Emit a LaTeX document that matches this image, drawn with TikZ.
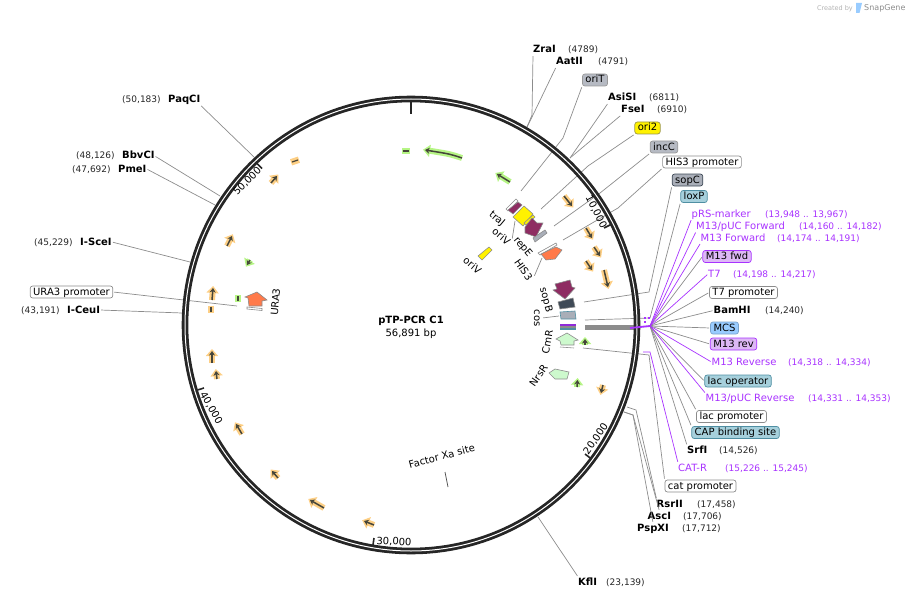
\documentclass[tikz,border=0pt]{standalone}
\usepackage{fontspec}
\setmainfont{DejaVu Sans}
\usetikzlibrary{arrows.meta}
\definecolor{leadgray}{HTML}{8C8C8C}
\definecolor{primerpurple}{HTML}{A832FF}
\definecolor{haloorange}{HTML}{FDCF85}
\definecolor{halogreen}{HTML}{B6F585}
\definecolor{arrowdark}{HTML}{45453A}
\definecolor{maroonfeat}{HTML}{8E2C62}
\definecolor{orangefeat}{HTML}{FF7A4A}
\definecolor{palegreen}{HTML}{CDF9CD}
\definecolor{slatefeat}{HTML}{3F4A57}
\definecolor{grayfeat}{HTML}{A9AEB8}
\definecolor{tealfeat}{HTML}{A6D0DC}
\definecolor{tealedge}{HTML}{4F8FA3}
\definecolor{lilacfeat}{HTML}{DDB8F5}
\definecolor{bluefeat}{HTML}{99CCFF}
\tikzset{
    lbl/.style={inner sep=0pt, font=\fontsize{10}{12}\selectfont, text height=8pt, text depth=2pt},
    site/.style={lbl, anchor=west, font=\fontsize{10}{12}\selectfont\bfseries},
    coordlbl/.style={lbl, anchor=west, font=\fontsize{9}{12}\selectfont, text=black!85},
    pcoordlbl/.style={coordlbl, text=primerpurple},
    primer/.style={lbl, anchor=west, text=primerpurple},
    tag/.style={lbl, rounded corners=2.5pt, inner xsep=3pt, inner ysep=1pt, draw, line width=0.7pt},
    whitetag/.style={tag, draw=black!45, fill=white},
    graytag/.style={tag, draw=black!40, fill=grayfeat!85},
    darktag/.style={tag, draw=slatefeat, fill=grayfeat},
    tealtag/.style={tag, draw=tealedge, fill=tealfeat},
    liltag/.style={tag, draw=primerpurple, fill=lilacfeat},
    bluetag/.style={tag, draw=bluefeat!80!black, fill=bluefeat},
    yellowtag/.style={tag, draw=black!45!yellow, fill=yellow},
    flabel/.style={lbl},
    leader/.style={draw=leadgray, line width=0.7pt, shorten <=1pt},
    pleader/.style={draw=primerpurple, line width=0.7pt, shorten <=1pt},
    halotip/.style={line width=6pt, shorten >=-2pt, -{Triangle[length=7pt,width=12pt]}},
    orfo/.style={draw=arrowdark, line width=1.5pt, -{Stealth[length=4.5pt,width=6pt]},
        preaction={draw=haloorange, halotip}},
    orfg/.style={draw=arrowdark, line width=1.5pt, -{Stealth[length=4.5pt,width=6pt]},
        preaction={draw=halogreen, halotip}},
    stubo/.style={draw=arrowdark, line width=1.2pt,
        preaction={draw=haloorange, line width=6.5pt, shorten <=-1pt, shorten >=-1pt}},
    stubg/.style={draw=arrowdark, line width=1.2pt,
        preaction={draw=halogreen, line width=6.5pt, shorten <=-1pt, shorten >=-1pt}},
    feat/.style={draw=black!45, line width=0.6pt},
}
\begin{document}
\begin{tikzpicture}[x=1pt, y=-1pt]
    \useasboundingbox (0,0) rectangle (913,599);

    % Ring stops and the fan hub
    \coordinate (hub) at (650,326);
    \coordinate (ringZ) at (527,127);
    \coordinate (ringT) at (521,191);
    \coordinate (ringS) at (570,158);
    \coordinate (ring2) at (541,209);
    \coordinate (ringC) at (554,226);
    \coordinate (ringH) at (563,240);
    \coordinate (ringB) at (584,302);
    \coordinate (ringX) at (585,320);
    \coordinate (ringR) at (627,407);
    \coordinate (ringA) at (624,412);
    \coordinate (ringK) at (538,517);
    \coordinate (ringP) at (254,157);
    \coordinate (ringV) at (220,196);
    \coordinate (ringM) at (215,205);
    \coordinate (ringI) at (190,262);
    \coordinate (ringU) at (237,306);
    \coordinate (ringE) at (182,313);
    \coordinate (catend) at (583,348);
    \coordinate (catr) at (643,352);

    % Enzyme sites
    \node[site] (zrai) at (533,50) {ZraI};
    \node[coordlbl] (zraip) at (568,50) {(4789)};
    \node[site] (aatii) at (556,62) {AatII};
    \node[coordlbl] (aatiip) at (598,62) {(4791)};
    \node[site] (asisi) at (608,98) {AsiSI};
    \node[coordlbl] (asisip) at (649,98) {(6811)};
    \node[site] (fsei) at (621,110) {FseI};
    \node[coordlbl] (fseip) at (657,110) {(6910)};
    \node[site] (bamhi) at (713.5,310.5) {BamHI};
    \node[coordlbl] (bamhip) at (765,310.5) {(14,240)};
    \node[site] (srfi) at (687,450.5) {SrfI};
    \node[coordlbl] (srfip) at (719,450.5) {(14,526)};
    \node[site] (rsrii) at (656.5,504) {RsrII};
    \node[coordlbl] (rsriip) at (697,504) {(17,458)};
    \node[site] (asci) at (647.5,516) {AscI};
    \node[coordlbl] (ascip) at (683,516) {(17,706)};
    \node[site] (pspxi) at (637,528) {PspXI};
    \node[coordlbl] (pspxip) at (682,528) {(17,712)};
    \node[site] (kfli) at (578,582) {KflI};
    \node[coordlbl] (kflip) at (606,582) {(23,139)};
    \node[site] (paqci) at (168,100) {PaqCI};
    \node[coordlbl] (paqcip) at (122,100) {(50,183)};
    \node[site] (bbvci) at (122,156) {BbvCI};
    \node[coordlbl] (bbvcip) at (76,156) {(48,126)};
    \node[site] (pmei) at (118,169) {PmeI};
    \node[coordlbl] (pmeip) at (72,169) {(47,692)};
    \node[site] (iscei) at (80,242) {I-SceI};
    \node[coordlbl] (isceip) at (34,242) {(45,229)};
    \node[site] (iceui) at (67,310) {I-CeuI};
    \node[coordlbl] (iceuip) at (21,310) {(43,191)};

    % Feature tags
    \node[graytag] (orit) at (595,80) {oriT};
    \node[yellowtag] (ori2) at (647.5,128) {ori2};
    \node[graytag] (incc) at (664,147) {incC};
    \node[whitetag] (hisprom) at (702,162) {HIS3 promoter};
    \node[darktag] (sopc) at (687.5,180) {sopC};
    \node[tealtag] (loxp) at (694,196.5) {loxP};
    \node[liltag] (mfwd) at (727,256.5) {M13 fwd};
    \node[whitetag] (tsprom) at (743.5,292.5) {T7 promoter};
    \node[bluetag] (mcs) at (724.5,328) {MCS};
    \node[liltag] (mrev) at (733.5,344) {M13 rev};
    \node[tealtag] (lacop) at (738,381) {lac operator};
    \node[whitetag] (lacprom) at (731.5,416.5) {lac promoter};
    \node[tealtag] (capsite) at (735.5,432.5) {CAP binding site};
    \node[whitetag] (catprom) at (700.5,486) {cat promoter};
    \node[whitetag] (uraprom) at (71.5,292) {URA3 promoter};

    % Primers
    \node[primer] (prs) at (691.5,214) {pRS-marker};
    \node[pcoordlbl] (prsp) at (765,214) {(13,948 .. 13,967)};
    \node[primer] (pucf) at (696,226.5) {M13/pUC Forward};
    \node[pcoordlbl] (pucfp) at (799,226.5) {(14,160 .. 14,182)};
    \node[primer] (mf) at (700.5,238) {M13 Forward};
    \node[pcoordlbl] (mfp) at (777,238) {(14,174 .. 14,191)};
    \node[primer] (tsv) at (708,274) {T7};
    \node[pcoordlbl] (tsvp) at (733,274) {(14,198 .. 14,217)};
    \node[primer] (mr) at (711.5,362) {M13 Reverse};
    \node[pcoordlbl] (mrp) at (788,362) {(14,318 .. 14,334)};
    \node[primer] (pucr) at (705.5,398.5) {M13/pUC Reverse};
    \node[pcoordlbl] (pucrp) at (808,398.5) {(14,331 .. 14,353)};
    \node[primer] (catrl) at (678,468) {CAT-R};
    \node[pcoordlbl] (catrp) at (725,468) {(15,226 .. 15,245)};

    % Leader lines
    \draw[leader] (zrai.south west) -- (532,115) -- (ringZ);
    \draw[leader] (aatii.south west) -- (532,117) -- (ringZ);
    \draw[leader] (orit.south west) -- (563,138) -- (ringT);
    \draw[leader] (asisi.south west) -- (ringS);
    \draw[leader] (fsei.south west) -- (ringS);
    \draw[leader] (ori2.south west) -- (588,166) -- (ring2);
    \draw[leader] (incc.south west) -- (600,193) -- (ringC);
    \draw[leader] (hisprom.south west) -- (618,208) -- (ringH);
    \draw[leader] (sopc.south west) -- (649,292) -- (ringB);
    \draw[leader] (loxp.south west) -- (650,318) -- (ringX);
    \draw[leader] (mfwd.west) -- (hub);
    \draw[leader] (tsprom.west) -- (hub);
    \draw[leader] (bamhi.west) -- (hub);
    \draw[leader] (mcs.west) -- (hub);
    \draw[leader] (mrev.west) -- (hub);
    \draw[leader] (lacop.west) -- (hub);
    \draw[leader] (lacprom.north west) -- (hub);
    \draw[leader] (capsite.north west) -- (hub);
    \draw[leader] (srfi.north west) -- (hub);
    \draw[leader] (catprom.north west) -- (649,355) -- (catend);
    \draw[leader] (rsrii.north west) -- (636,410) -- (ringR);
    \draw[leader] (asci.north) -- (633,415) -- (ringA);
    \draw[leader] (pspxi.north) -- (633,415) -- (ringA);
    \draw[leader] (kfli.north west) -- (ringK);
    \draw[leader] (paqci.south east) -- (ringP);
    \draw[leader] (bbvci.east) -- (ringV);
    \draw[leader] (pmei.east) -- (ringM);
    \draw[leader] (iscei.east) -- (ringI);
    \draw[leader] (uraprom.east) -- (ringU);
    \draw[leader] (iceui.east) -- (ringE);

    % Gray band from the cloning site to the fan
    \draw[draw=leadgray, line width=4.5pt] (585,327.5) -- (634,327.5);

    % Backbone ring
    \draw[black!85, line width=6.6pt] (411,325) circle (226);
    \draw[white, line width=1pt] (411,325) circle (226);
    \draw[black!85, line width=2pt] (411,102) -- (411,114);
    \draw[black!85, line width=1.6pt] (610.4,224.8) -- (604,228);
    \draw[black!85, line width=1.6pt] (590.7,458.4) -- (585,454);
    \draw[black!85, line width=1.6pt] (373,545) -- (374,538);
    \draw[black!85, line width=1.6pt] (197.6,390) -- (204,388);
    \draw[black!85, line width=1.6pt] (257,163.5) -- (262,168.5);

    % Scale marks
    \node[lbl, rotate=-63] (tenk) at (596,212) {10,000};
    \node[lbl, rotate=55] (twentyk) at (596,439) {20,000};
    \node[lbl, rotate=-3] (thirtyk) at (394,542) {30,000};
    \node[lbl, rotate=-60] (fortyk) at (211,408) {40,000};
    \node[lbl, rotate=45] (fiftyk) at (247.5,181.5) {50,000};

    % Primers through the ring
    \draw[pleader] (prs.south west) -- (hub);
    \draw[pleader] (pucf.south west) -- (hub);
    \draw[pleader] (mf.south west) -- (hub);
    \draw[pleader] (tsv.west) -- (hub);
    \draw[pleader] (mr.west) -- (hub);
    \draw[pleader] (pucr.north west) -- (hub);
    \draw[pleader] (catrl.north west) -- (650,352) -- (catr);
    \draw[primerpurple, line width=1.8pt] (630,328) -- (hub);
    \draw[primerpurple, line width=1.6pt] (645,317) -- (645,319);
    \draw[primerpurple, line width=1.6pt] (645,321) -- (645,323);
    \draw[primerpurple, line width=1.6pt] (649,317) -- (649,319);

    % Outer arrows
    \draw[orfo] (564,196) -- (572,206);
    \draw[orfo] (586,228) -- (592,238);
    \draw[orfo] (594,247) -- (600,256);
    \draw[orfo] (586,261) -- (592,270);
    \draw[orfo] (604,270) -- (608,287);
    \draw[orfo] (603,385) -- (601,393);
    \draw[orfg] (585,345) -- (585,339);
    \draw[orfg] (577,387) -- (577.5,380);
    \draw[stubo] (292,162) -- (298,160);
    \draw[orfo] (271,183) -- (277,176);
    \draw[orfo] (227,246) -- (232,236);
    \draw[orfg] (250,260) -- (247,265);
    \draw[orfo] (212,300) -- (213,288);
    \draw[stubo] (211,306.5) -- (211,311.5);
    \draw[stubg] (238,296) -- (238,301);
    \draw[orfo] (212,363) -- (212,351);
    \draw[orfo] (217,379) -- (216,371);
    \draw[orfo] (242,434) -- (236,424);
    \draw[orfo] (278,478) -- (272,471);
    \draw[orfo] (324,508) -- (310,500);
    \draw[orfo] (374,525) -- (364,521);
    \draw[stubg] (403,151) -- (409,151);
    \draw[orfg] (462,158) .. controls (450,154) .. (425,150);
    \draw[orfg] (510,182) -- (497,174);

    % Inner features
    \draw[feat, fill=white] (506,209) -- (516,199) -- (518,201) -- (508,211) -- cycle;
    \draw[feat, fill=maroonfeat] (508,210) -- (518,202) -- (522,205) -- (519,208) -- (513,214) -- cycle;
    \draw[feat, fill=yellow] (513,217) -- (524,206) -- (533,214) -- (523,226) -- cycle;
    \draw[feat, fill=yellow] (524,223) -- (533,215) -- (535,217) -- (526,225) -- cycle;
    \draw[feat, fill=maroonfeat] (525,227) -- (532,218) -- (537,223) -- (543,223) -- (536,237) -- (525,233) -- cycle;
    \draw[feat, fill=grayfeat] (533,238) -- (545,230) -- (547,233) -- (535,242) -- cycle;
    \draw[feat, fill=white] (538,253) -- (556,243) -- (557,245) -- (540,255) -- cycle;
    \draw[feat, fill=orangefeat] (541,254) -- (556,247) -- (562,250) -- (555,259) -- (546,260) -- cycle;
    \draw[feat, fill=yellow] (478,256) -- (489,247) -- (492,250) -- (482,260) -- cycle;
    \draw[feat, fill=maroonfeat] (555,284) -- (570,280) -- (572,287) -- (575,288) -- (565,299) -- (553,290) -- (557,289) -- cycle;
    \draw[feat, fill=slatefeat] (558,302) -- (573,298) -- (575,307) -- (560,309) -- cycle;
    \draw[draw=tealedge, line width=0.6pt, fill=grayfeat] (560,312) -- (575,311) -- (576,319) -- (561,319) -- cycle;
    \fill[primerpurple!85!black] (560,324) rectangle (576,326);
    \fill[black!45] (560,326) rectangle (576,328);
    \fill[tealedge] (560,328) rectangle (576,330);
    \draw[feat, fill=palegreen] (556,339) -- (567,333) -- (578,340) -- (574,341) -- (574,345) -- (561,345) -- (560,341) -- cycle;
    \draw[feat] (560,347) -- (574,348);
    \draw[feat, fill=palegreen] (549,373) -- (555,369) -- (569,372) -- (567,379) -- (555,379) -- cycle;
    \draw[feat, fill=orangefeat] (245,297) -- (257,292) -- (267,300) -- (262,301) -- (262,306) -- (249,306) -- (248,298) -- cycle;
    \draw[feat, fill=white] (247,307) -- (262,308.5) -- (262,310.5) -- (247,309) -- cycle;

    % Short feature leaders
    \node[flabel, rotate=-40] (traj) at (497,219) {traJ};
    \node[flabel, rotate=-40] (oriva) at (501,237) {oriV};
    \node[flabel, rotate=-50] (repe) at (523,247) {repE};
    \node[flabel, rotate=-55] (his) at (523,270) {HIS3};
    \node[flabel, rotate=-40] (orivb) at (472,266) {oriV};
    \node[flabel, rotate=-75] (sopb) at (546,300) {sopB};
    \node[flabel, rotate=-90] (cos) at (537,318) {cos};
    \node[flabel, rotate=80] (cmr) at (548,342) {CmR};
    \node[flabel, rotate=55] (nrsr) at (539,376) {NrsR};
    \node[flabel, rotate=85] (ura) at (276,302) {URA3};
    \coordinate (orivend) at (515,221);
    \coordinate (hisend) at (542,258);
    \coordinate (cosend) at (559,316);
    \draw[leader] (oriva.north east) -- (orivend);
    \draw[leader] (his.north east) -- (hisend);
    \draw[leader] (cos.north) -- (cosend);

    % Centre title
    \node[lbl, font=\fontsize{10}{12}\selectfont\bfseries] (title) at (411,320) {pTP-PCR C1};
    \node[lbl] (length) at (411,333) {56,891 bp};
    \node[lbl, rotate=15] (factor) at (442,457) {Factor Xa site};
    \coordinate (factorend) at (448,487);
    \draw[draw=black!70, line width=0.7pt] (445,472) -- (factorend);

    % Corner credit
    \node[lbl, anchor=east, font=\fontsize{6.5}{8}\selectfont, text=black!30] (created) at (853,8) {Created by};
    \fill[bluefeat] (856,3) -- (862,3) -- (859.5,13) -- (856,13) -- cycle;
    \node[lbl, anchor=west, font=\fontsize{8}{8}\selectfont, text=black!45] (snap) at (864,8) {SnapGene};
\end{tikzpicture}
\end{document}
